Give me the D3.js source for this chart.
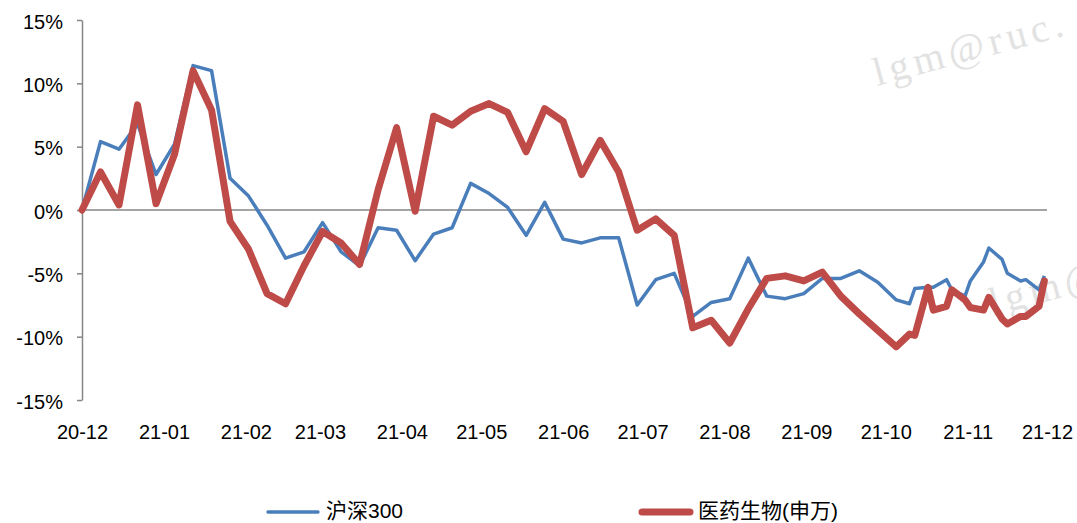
<!DOCTYPE html>
<html>
<head>
<meta charset="utf-8">
<script src="https://cdn.jsdelivr.net/npm/d3@7/dist/d3.min.js"></script>
<style>
  body { margin: 0; background: #fff; }
  svg { display: block; }
  text { font-family: "Liberation Sans", Arial, "Noto Sans CJK SC", sans-serif; fill: #000; }
</style>
</head>
<body>
<svg id="chart"></svg>
<script>
var width = 1077;
var height = 523;

// weekly points, then two a week from mid-October
var dates = [
  "2020-12-01", "2020-12-08", "2020-12-15", "2020-12-22", "2020-12-29",
  "2021-01-05", "2021-01-12", "2021-01-19", "2021-01-26",
  "2021-02-02", "2021-02-09", "2021-02-16", "2021-02-23",
  "2021-03-02", "2021-03-09", "2021-03-16", "2021-03-23", "2021-03-30",
  "2021-04-06", "2021-04-13", "2021-04-20", "2021-04-27",
  "2021-05-04", "2021-05-11", "2021-05-18", "2021-05-25",
  "2021-06-01", "2021-06-08", "2021-06-15", "2021-06-22", "2021-06-29",
  "2021-07-06", "2021-07-13", "2021-07-20", "2021-07-27",
  "2021-08-03", "2021-08-10", "2021-08-17", "2021-08-24", "2021-08-31",
  "2021-09-07", "2021-09-14", "2021-09-21", "2021-09-28",
  "2021-10-05", "2021-10-10", "2021-10-12", "2021-10-17", "2021-10-19",
  "2021-10-24", "2021-10-26", "2021-10-31", "2021-11-02",
  "2021-11-07", "2021-11-09", "2021-11-14", "2021-11-16",
  "2021-11-21", "2021-11-23", "2021-11-28", "2021-11-30"
];

// 沪深300, %
var hs300 = [
  0, 5.4, 4.8, 6.8, 2.8,
  5.2, 11.4, 11.0, 2.5,
  1.1, -1.2, -3.8, -3.3,
  -1.0, -3.3, -4.4, -1.4, -1.6,
  -4.0, -1.9, -1.4, 2.1,
  1.3, 0.2, -2.0, 0.6,
  -2.3, -2.6, -2.2, -2.2, -7.5,
  -5.5, -5.0, -8.4, -7.3,
  -7.0, -3.8, -6.8, -7.0, -6.6,
  -5.4, -5.4, -4.8, -5.7,
  -7.1, -7.4, -6.2, -6.1, -6.1,
  -5.5, -6.3, -6.8, -5.6,
  -4.1, -3.0, -3.9, -5.0,
  -5.6, -5.5, -6.3, -5.2
];

// 医药生物(申万), %
var yiyao = [
  0, 3.0, 0.4, 8.3, 0.5,
  4.4, 11.0, 7.9, -0.9,
  -3.1, -6.6, -7.4, -4.4,
  -1.7, -2.6, -4.3, 1.6, 6.5,
  -0.1, 7.4, 6.7, 7.8,
  8.4, 7.7, 4.6, 8.0,
  7.0, 2.8, 5.5, 3.0, -1.6,
  -0.7, -2.0, -9.3, -8.7,
  -10.5, -7.8, -5.4, -5.2, -5.6,
  -4.9, -6.8, -8.2, -9.5,
  -10.8, -9.8, -9.9, -6.1, -7.9,
  -7.6, -6.3, -7.1, -7.7,
  -7.9, -6.9, -8.6, -9.0,
  -8.4, -8.4, -7.6, -5.6
];

var seriesNames = ["沪深300", "医药生物(申万)"];
var yTicks = [-15, -10, -5, 0, 5, 10, 15];
var xStart = "2020-12-01";
var xEnd = "2021-12-01";
var watermarks = ["lgm@ruc.", "lgm@"];

var parse = d3.timeParse("%Y-%m-%d");
var blueData = dates.map(function(d, i) { return {date: parse(d), value: hs300[i]}; });
var redData = dates.map(function(d, i) { return {date: parse(d), value: yiyao[i]}; });

var svg = d3.select("#chart")
  .attr("width", width)
  .attr("height", height);

var x = d3.scaleTime()
  .domain([parse(xStart), parse(xEnd)])
  .range([82, 1047]);

var y = d3.scaleLinear()
  .domain([-15, 15])
  .range([400, 20]);

// watermarks
svg.append("text")
  .attr("transform", "translate(877,86) rotate(-15)")
  .style("font-family", "'Liberation Serif', 'Times New Roman', serif")
  .style("font-size", "40px")
  .style("letter-spacing", "5px")
  .style("fill", "#e2e2e2")
  .text(watermarks[0]);

svg.append("text")
  .attr("transform", "translate(993,316) rotate(-15)")
  .style("font-family", "'Liberation Serif', 'Times New Roman', serif")
  .style("font-size", "40px")
  .style("letter-spacing", "5px")
  .style("fill", "#e2e2e2")
  .text(watermarks[1]);

// y axis
var yAxis = svg.append("g")
  .attr("transform", "translate(82,0)")
  .call(d3.axisLeft(y)
    .tickValues(yTicks)
    .tickSize(5)
    .tickSizeOuter(0)
    .tickPadding(14)
    .tickFormat(function(d) { return d + "%"; }));
yAxis.select(".domain").attr("stroke", "#868686").attr("stroke-width", 1.5);
yAxis.selectAll(".tick line").attr("stroke", "#868686").attr("stroke-width", 1.5);
yAxis.selectAll("text")
  .style("font-size", "20px")
  .attr("dy", "0.4em");

// x axis labels at the bottom
var xAxis = svg.append("g")
  .attr("transform", "translate(0,400)")
  .call(d3.axisBottom(x)
    .ticks(d3.timeMonth.every(1))
    .tickSize(0)
    .tickPadding(25)
    .tickFormat(d3.timeFormat("%y-%m")));
xAxis.select(".domain").remove();
xAxis.selectAll("text").style("font-size", "20px");

// zero line
svg.append("line")
  .attr("x1", x(parse(xStart)))
  .attr("x2", x(parse(xEnd)))
  .attr("y1", y(0))
  .attr("y2", y(0))
  .attr("stroke", "#868686")
  .attr("stroke-width", 1.5);

var line = d3.line()
  .x(function(d) { return x(d.date); })
  .y(function(d) { return y(d.value); });

svg.append("path")
  .datum(blueData)
  .attr("fill", "none")
  .attr("stroke", "#4a7ebb")
  .attr("stroke-width", 3.5)
  .attr("stroke-linejoin", "round")
  .attr("d", line);

svg.append("path")
  .datum(redData)
  .attr("fill", "none")
  .attr("stroke", "#be4b48")
  .attr("stroke-width", 7)
  .attr("stroke-linejoin", "round")
  .attr("stroke-linecap", "round")
  .attr("d", line);

// legend
var legend = svg.append("g");
legend.append("line")
  .attr("x1", 268).attr("x2", 318)
  .attr("y1", 512).attr("y2", 512)
  .attr("stroke", "#4a7ebb")
  .attr("stroke-width", 3.5)
  .attr("stroke-linecap", "round");
legend.append("text")
  .attr("x", 326).attr("y", 518)
  .style("font-size", "21px")
  .text(seriesNames[0]);
legend.append("line")
  .attr("x1", 642).attr("x2", 690)
  .attr("y1", 512).attr("y2", 512)
  .attr("stroke", "#be4b48")
  .attr("stroke-width", 7)
  .attr("stroke-linecap", "round");
legend.append("text")
  .attr("x", 698).attr("y", 518)
  .style("font-size", "21px")
  .text(seriesNames[1]);
</script>
</body>
</html>
